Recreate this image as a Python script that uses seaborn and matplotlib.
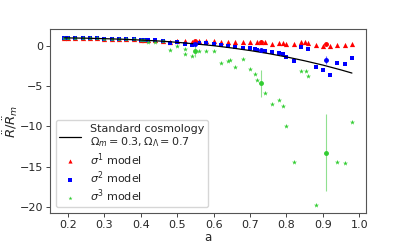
import matplotlib
matplotlib.use("Agg")
import matplotlib.pyplot as plt
import seaborn as sns

# standard cosmology curve
a_std = [0.19, 0.25, 0.30, 0.35, 0.40, 0.45, 0.50, 0.55, 0.60, 0.65, 0.70,
         0.75, 0.80, 0.85, 0.90, 0.95, 0.98]
r_std = [0.97, 0.93, 0.87, 0.80, 0.70, 0.58, 0.42, 0.22, 0.0, -0.28, -0.60,
         -0.97, -1.39, -1.87, -2.40, -3.00, -3.39]

a_early = [0.19, 0.20, 0.22, 0.24, 0.26, 0.28, 0.30, 0.32, 0.34, 0.36, 0.38, 0.40]
r_early = [1.0, 1.0, 0.98, 0.95, 0.93, 0.9, 0.88, 0.85, 0.84, 0.8, 0.78, 0.74]

# sigma^1 model
a_s1 = a_early + [0.41, 0.42, 0.44, 0.46, 0.48, 0.50, 0.52, 0.54, 0.56, 0.58,
                  0.60, 0.62, 0.64, 0.66, 0.68, 0.70, 0.72, 0.73, 0.74, 0.76,
                  0.78, 0.79, 0.80, 0.82, 0.84, 0.85, 0.86, 0.88, 0.90, 0.92,
                  0.94, 0.96, 0.98]
r_s1 = r_early + [0.72, 0.7, 0.67, 0.64, 0.45, 0.6, 0.55, 0.45, 0.6, 0.6,
                  0.55, 0.5, 0.45, 0.45, 0.42, 0.4, 0.42, 0.45, 0.4, 0.25,
                  0.3, 0.3, 0.2, 0.17, 0.4, 0.42, 0.35, 0.04, 0.0, -0.04,
                  0.04, 0.04, 0.17]

# sigma^2 model
a_s2 = a_early + [0.41, 0.42, 0.44, 0.46, 0.48, 0.50, 0.52, 0.54, 0.55, 0.56,
                  0.58, 0.60, 0.62, 0.64, 0.66, 0.68, 0.70, 0.715, 0.72, 0.74,
                  0.76, 0.78, 0.79, 0.80, 0.82, 0.84, 0.86, 0.88, 0.90, 0.92,
                  0.94, 0.96, 0.98]
r_s2 = r_early + [0.72, 0.7, 0.67, 0.64, 0.3, 0.5, 0.2, 0.08, 0.2, 0.33,
                  0.3, 0.2, 0.08, 0.0, -0.2, -0.3, -0.3, -0.4, -0.5, -0.7,
                  -0.8, -0.9, -1.0, -1.4, -1.9, -0.2, -0.4, -2.6, -3.0, -3.6,
                  -2.2, -2.3, -1.5]

# sigma^3 model
a_s3 = a_early + [0.41, 0.42, 0.44, 0.46, 0.48, 0.50, 0.52, 0.52, 0.54, 0.56,
                  0.58, 0.60, 0.62, 0.64, 0.645, 0.66, 0.68, 0.70, 0.715, 0.72,
                  0.74, 0.76, 0.78, 0.79, 0.80, 0.82, 0.84, 0.855, 0.86, 0.88,
                  0.94, 0.96, 0.98]
r_s3 = r_early + [0.72, 0.4, 0.4, 0.55, -0.5, 0.0, -0.35, -1.05, -1.25, -0.7,
                  -0.7, -0.7, -2.15, -1.9, -1.75, -2.6, -1.7, -2.9, -3.5, -4.3,
                  -5.8, -7.2, -6.7, -7.45, -10.0, -14.4, -3.1, -3.1, -3.75, -19.7,
                  -14.4, -14.5, -9.45]

# points with error bars
a_err = [0.55, 0.73, 0.91]
s1_err_y = [0.6, 0.45, 0.17]
s1_err = [0.1, 0.1, 0.1]
s2_err_y = [0.15, -0.5, -1.8]
s2_err = [0.15, 0.2, 0.5]
s3_err_y = [-0.7, -4.65, -13.25]
s3_err = [0.75, 1.65, 4.8]

sns.set_style("ticks")
plt.rcParams['font.family'] = ['DejaVu Sans']
plt.rcParams['font.size'] = 8
plt.rcParams['mathtext.fontset'] = 'dejavusans'

fig, ax = plt.subplots(figsize=(4.07, 2.44), dpi=100)
fig.subplots_adjust(left=0.123, right=0.9, top=0.88, bottom=0.127)

red = '#ff0000'
blue = '#0000ff'
green = '#32cd32'

sns.lineplot(x=a_std, y=r_std, ax=ax, color='black', linewidth=0.9,
             label='Standard cosmology\n$\\Omega_m=0.3, \\Omega_\\Lambda=0.7$')
sns.scatterplot(x=a_s1, y=r_s1, ax=ax, color=red, marker='^', s=14,
                linewidth=0, label='$\\sigma^1$ model')
sns.scatterplot(x=a_s2, y=r_s2, ax=ax, color=blue, marker='s', s=12,
                linewidth=0, label='$\\sigma^2$ model')
sns.scatterplot(x=a_s3, y=r_s3, ax=ax, color=green, marker='*', s=14,
                linewidth=0, label='$\\sigma^3$ model')

ax.errorbar(a_err, s1_err_y, yerr=s1_err, fmt='o', color=red, ms=2.5,
            ecolor='#ff8080', elinewidth=0.8)
ax.errorbar(a_err, s2_err_y, yerr=s2_err, fmt='o', color=blue, ms=2.5,
            ecolor='#6060ff', elinewidth=0.8)
ax.errorbar(a_err, s3_err_y, yerr=s3_err, fmt='o', color=green, ms=2.5,
            ecolor='#90e090', elinewidth=0.8)

ax.set_xticks([0.2, 0.3, 0.4, 0.5, 0.6, 0.7, 0.8, 0.9, 1.0])
ax.set_yticks([0, -5, -10, -15, -20])
ax.tick_params(labelsize=8, length=3, width=0.6, pad=2)
for sp in ax.spines.values():
    sp.set_linewidth(0.8)
    sp.set_color('#555555')

ax.set_xlabel('a', fontsize=8.5, labelpad=1)
ax.set_ylabel('$\\ddot{R}/\\ddot{R}_m$', fontsize=9.5, labelpad=0)

ax.legend(loc='lower left', fontsize=8, markerscale=0.8, handlelength=2.0,
          borderpad=0.3, labelspacing=0.15, handletextpad=0.8)

fig.savefig('out.png', dpi=100)
